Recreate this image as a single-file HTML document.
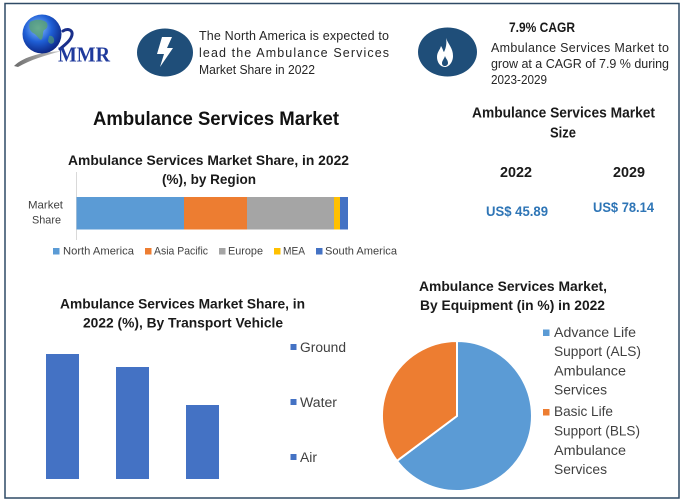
<!DOCTYPE html>
<html><head><meta charset="utf-8"><style>
html,body{margin:0;padding:0;background:#fff;}
svg{display:block;}
text{font-family:"Liberation Sans",sans-serif;}
</style></head><body>
<svg width="684" height="504" viewBox="0 0 684 504" xmlns="http://www.w3.org/2000/svg">
<defs>
<radialGradient id="gl" cx="0.4" cy="0.35" r="0.7">
<stop offset="0" stop-color="#8fc4ff"/>
<stop offset="0.5" stop-color="#1f5fd6"/>
<stop offset="1" stop-color="#0a1f7a"/>
</radialGradient>
<linearGradient id="sw" x1="0" y1="0" x2="1" y2="0">
<stop offset="0" stop-color="#6b6b6b"/>
<stop offset="1" stop-color="#c9c9c9"/>
</linearGradient>
</defs>
<rect x="0" y="0" width="684" height="504" fill="#fff"/>
<rect x="5" y="3.5" width="674" height="494.5" fill="none" stroke="#2f4a66" stroke-width="1.5"/>

<!-- Logo -->
<path d="M14,66 C24,56 44,52 62,51 C46,55 30,60 18,67 Z" fill="url(#sw)"/>
<circle cx="42" cy="34" r="19.5" fill="url(#gl)"/>
<path d="M30,22 C35,19 42,19 46,22 C49,25 47,29 44,30 C42,33 44,37 41,40 C38,38 36,34 33,33 C30,31 28,27 30,22 Z" fill="#5aa36a" opacity="0.75"/>
<path d="M49,36 C52,35 55,38 54,42 C52,45 49,44 48,41 Z" fill="#5aa36a" opacity="0.6"/>
<path d="M63,31 C68,28 73,30 72,35 C71,40 66,44 60,49" fill="none" stroke="#1a2f8a" stroke-width="3" stroke-linecap="round"/>
<text x="58" y="61.5" font-weight="bold" font-size="21" fill="#1f3a9c" textLength="52" lengthAdjust="spacingAndGlyphs" style="font-family:'Liberation Serif',serif">MMR</text>

<!-- lightning -->
<ellipse cx="165" cy="52.5" rx="28" ry="24" fill="#1f4e79"/>
<polygon points="162,37 172,37 167,48 173,48 160,67 164,54 157,54" fill="#fff"/>
<text font-size="12.5" fill="#262626">
<tspan x="199" y="40" textLength="190" lengthAdjust="spacing">The North America is expected to</tspan>
<tspan x="199" y="57" textLength="190" lengthAdjust="spacing">lead  the  Ambulance  Services</tspan>
<tspan x="199" y="74" textLength="116" lengthAdjust="spacingAndGlyphs">Market Share in 2022</tspan>
</text>

<!-- flame -->
<ellipse cx="447.5" cy="52" rx="29.5" ry="24.5" fill="#1f4e79"/>
<path d="M446,38 C448,44 453,48 453,56 C453,62 449,67 445,67 C440,67 437,62 437,57 C437,52 440,50 441,46 C443,49 443,51 444,52 C446,48 447,43 446,38 Z" fill="#fff"/>
<path d="M445,56 C446,59 448,60 448,63 C448,65 446,66 445,66 C443,66 442,65 442,63 C442,61 444,59 445,56 Z" fill="#1f4e79"/>
<text x="509" y="32" font-size="14" font-weight="bold" fill="#1a1a1a" textLength="66" lengthAdjust="spacingAndGlyphs">7.9% CAGR</text>
<text font-size="12.5" fill="#262626">
<tspan x="491" y="52" textLength="178" lengthAdjust="spacing">Ambulance Services Market to</tspan>
<tspan x="491" y="68" textLength="178" lengthAdjust="spacing">grow at a CAGR of 7.9 % during</tspan>
<tspan x="491" y="84" textLength="56" lengthAdjust="spacingAndGlyphs">2023-2029</tspan>
</text>

<!-- main title -->
<text x="93" y="125" font-size="19.5" font-weight="bold" fill="#111" textLength="246" lengthAdjust="spacingAndGlyphs">Ambulance Services Market</text>

<!-- Region chart -->
<text x="68" y="165" font-size="14" font-weight="bold" fill="#1a1a1a" textLength="281" lengthAdjust="spacingAndGlyphs">Ambulance Services Market Share, in 2022</text>
<text x="162" y="184" font-size="14" font-weight="bold" fill="#1a1a1a" textLength="94" lengthAdjust="spacingAndGlyphs">(%), by Region</text>
<line x1="76.5" y1="172" x2="76.5" y2="240" stroke="#d9d9d9" stroke-width="1"/>
<text x="28" y="208.5" font-size="11" fill="#404040" textLength="35" lengthAdjust="spacingAndGlyphs">Market</text>
<text x="32" y="223.5" font-size="11" fill="#404040" textLength="29" lengthAdjust="spacingAndGlyphs">Share</text>
<rect x="76.5" y="197" width="107.5" height="32.5" fill="#5b9bd5"/>
<rect x="184" y="197" width="63" height="32.5" fill="#ed7d31"/>
<rect x="247" y="197" width="87" height="32.5" fill="#a5a5a5"/>
<rect x="334" y="197" width="6" height="32.5" fill="#ffc000"/>
<rect x="340" y="197" width="8" height="32.5" fill="#4472c4"/>
<rect x="53" y="248" width="6.5" height="6.5" fill="#5b9bd5"/>
<text x="63" y="254.5" font-size="11" fill="#404040" textLength="71" lengthAdjust="spacingAndGlyphs">North America</text>
<rect x="145" y="248" width="6.5" height="6.5" fill="#ed7d31"/>
<text x="154" y="254.5" font-size="11" fill="#404040" textLength="54" lengthAdjust="spacingAndGlyphs">Asia Pacific</text>
<rect x="219" y="248" width="6.5" height="6.5" fill="#a5a5a5"/>
<text x="228" y="254.5" font-size="11" fill="#404040" textLength="35" lengthAdjust="spacingAndGlyphs">Europe</text>
<rect x="274" y="248" width="6.5" height="6.5" fill="#ffc000"/>
<text x="283" y="254.5" font-size="11" fill="#404040" textLength="22" lengthAdjust="spacingAndGlyphs">MEA</text>
<rect x="316" y="248" width="6.5" height="6.5" fill="#4472c4"/>
<text x="325" y="254.5" font-size="11" fill="#404040" textLength="72" lengthAdjust="spacingAndGlyphs">South America</text>

<!-- Market size -->
<text x="472" y="117.5" font-size="14.5" font-weight="bold" fill="#1a1a1a" textLength="183" lengthAdjust="spacingAndGlyphs">Ambulance Services Market</text>
<text x="550" y="137.5" font-size="14.5" font-weight="bold" fill="#1a1a1a" textLength="26" lengthAdjust="spacingAndGlyphs">Size</text>
<text x="500" y="177" font-size="14.5" font-weight="bold" fill="#1a1a1a" textLength="32" lengthAdjust="spacingAndGlyphs">2022</text>
<text x="613" y="177" font-size="14.5" font-weight="bold" fill="#1a1a1a" textLength="32" lengthAdjust="spacingAndGlyphs">2029</text>
<text x="486" y="216" font-size="13.5" font-weight="bold" fill="#2e75b6" textLength="62" lengthAdjust="spacingAndGlyphs">US$ 45.89</text>
<text x="593" y="212" font-size="13.5" font-weight="bold" fill="#2e75b6" textLength="61" lengthAdjust="spacingAndGlyphs">US$ 78.14</text>

<!-- Transport vehicle chart -->
<text x="60" y="308.5" font-size="14" font-weight="bold" fill="#1a1a1a" textLength="245" lengthAdjust="spacingAndGlyphs">Ambulance Services Market Share, in</text>
<text x="83" y="327.5" font-size="14" font-weight="bold" fill="#1a1a1a" textLength="200" lengthAdjust="spacingAndGlyphs">2022 (%), By Transport Vehicle</text>
<rect x="46" y="354" width="33" height="125" fill="#4472c4"/>
<rect x="116" y="367" width="33" height="112" fill="#4472c4"/>
<rect x="186" y="405" width="33" height="74" fill="#4472c4"/>
<rect x="290.5" y="344" width="6" height="6" fill="#4472c4"/>
<text x="300" y="352" font-size="13.5" fill="#404040" textLength="46" lengthAdjust="spacingAndGlyphs">Ground</text>
<rect x="290.5" y="399" width="6" height="6" fill="#4472c4"/>
<text x="300" y="407" font-size="13.5" fill="#404040" textLength="37" lengthAdjust="spacingAndGlyphs">Water</text>
<rect x="290.5" y="454" width="6" height="6" fill="#4472c4"/>
<text x="300" y="462" font-size="13.5" fill="#404040" textLength="17" lengthAdjust="spacingAndGlyphs">Air</text>

<!-- Pie chart -->
<text x="419" y="291" font-size="14" font-weight="bold" fill="#1a1a1a" textLength="188" lengthAdjust="spacingAndGlyphs">Ambulance Services Market,</text>
<text x="420" y="310" font-size="14" font-weight="bold" fill="#1a1a1a" textLength="185" lengthAdjust="spacingAndGlyphs">By Equipment (in %) in 2022</text>
<path d="M457,416 L457,341 A75,75 0 1 1 396.9,460.9 Z" fill="#5b9bd5" stroke="#fff" stroke-width="2" stroke-linejoin="round"/>
<path d="M457,416 L396.9,460.9 A75,75 0 0 1 457,341 Z" fill="#ed7d31" stroke="#fff" stroke-width="2" stroke-linejoin="round"/>
<rect x="543" y="329.5" width="6.5" height="6.5" fill="#5b9bd5"/>
<rect x="543" y="409" width="6.5" height="6.5" fill="#ed7d31"/>
<g font-size="14" fill="#404040">
<text x="554" y="337" textLength="82" lengthAdjust="spacingAndGlyphs">Advance Life</text>
<text x="554" y="356" textLength="87" lengthAdjust="spacingAndGlyphs">Support (ALS)</text>
<text x="554" y="375.5" textLength="72" lengthAdjust="spacingAndGlyphs">Ambulance</text>
<text x="554" y="394.5" textLength="53" lengthAdjust="spacingAndGlyphs">Services</text>
<text x="554" y="416" textLength="59" lengthAdjust="spacingAndGlyphs">Basic Life</text>
<text x="554" y="435.5" textLength="86" lengthAdjust="spacingAndGlyphs">Support (BLS)</text>
<text x="554" y="455" textLength="72" lengthAdjust="spacingAndGlyphs">Ambulance</text>
<text x="554" y="474" textLength="53" lengthAdjust="spacingAndGlyphs">Services</text>
</g>
</svg>
</body></html>
